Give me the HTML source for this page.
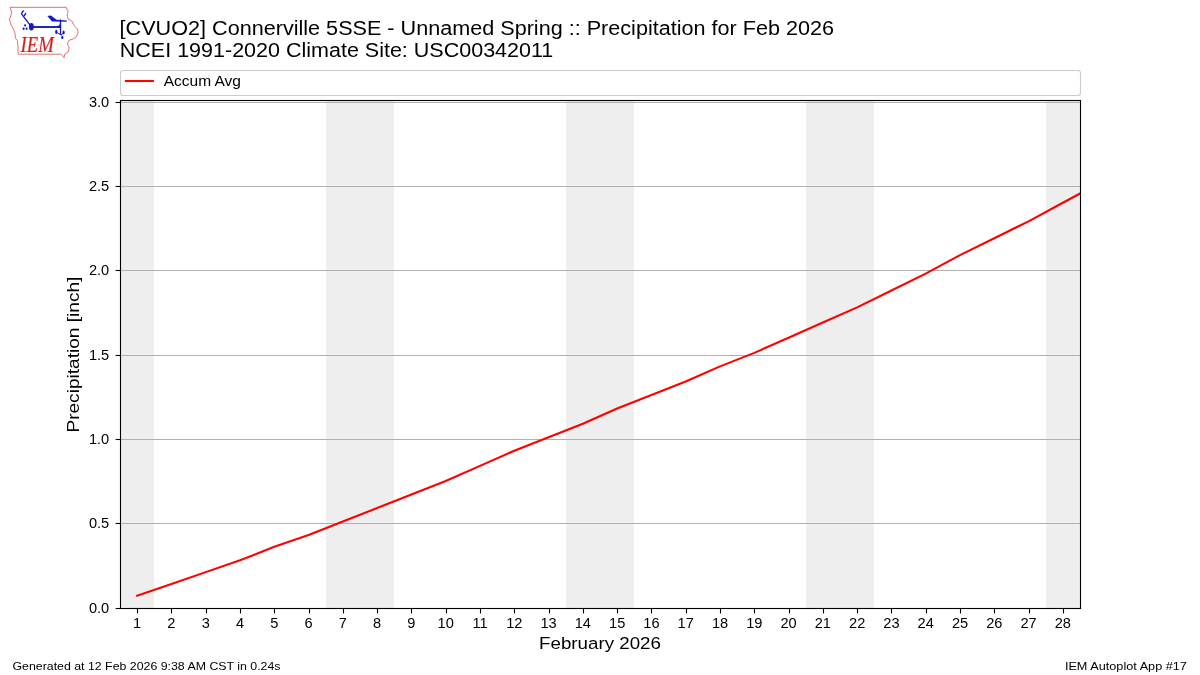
<!DOCTYPE html>
<html><head><meta charset="utf-8"><title>IEM Autoplot</title>
<style>
html,body{margin:0;padding:0;background:#fff;}
body{width:1200px;height:675px;overflow:hidden;}
svg{display:block;will-change:transform;}
text{font-family:"Liberation Sans", sans-serif;fill:#000;}
</style></head><body>
<svg width="1200" height="675" viewBox="0 0 1200 675">
<rect x="0" y="0" width="1200" height="675" fill="#fff"/>
<g id="logo">
<path d="M10.1,7.3 L66.4,7.3 L67.1,9.7 L68.4,11.2 L67.3,13.2 L67.3,16.3 L68.4,19.4 L70.7,20.3 L72.4,21.7 L73.3,24.3 L75.1,26.6 L77.3,28.8 L78.1,31.7 L77.3,34.8 L75.8,37.4 L73.2,39 L69,40.3 L68,42.1 L67.5,44.2 L69,46.8 L68.8,49.9 L67.5,52.5 L64.9,54 L64.4,56.1 L64.1,57.7 L62.3,55.6 L60.7,54.2 L18.4,54.2 L18,51.4 L18,46.8 L17.4,40.6 L15.4,38 L14.8,32.3 L12.8,28.1 L11.2,25 L9.4,19.4 L11.7,13.2 L10.8,9.7 Z" fill="none" stroke="#e06060" stroke-width="0.9"/>
<text x="20.6" y="51.5" style="font-family:'Liberation Serif',serif;font-style:italic;font-size:22.6px;fill:#d42020;stroke:#d42020;stroke-width:0.2" textLength="33.3" lengthAdjust="spacingAndGlyphs">IEM</text>
<g fill="#1818c8" stroke="#1818c8">
<line x1="31.4" y1="26.8" x2="21.3" y2="13.6" stroke-width="1.35"/>
<line x1="21.3" y1="13.6" x2="23.6" y2="10.5" stroke-width="1.35"/>
<line x1="24.0" y1="16.0" x2="26.0" y2="13.1" stroke-width="1.35"/>
<ellipse cx="31.35" cy="26.8" rx="2.5" ry="3.8" stroke="none"/>
<line x1="31.4" y1="27" x2="60.4" y2="27" stroke-width="1.9"/>
<line x1="60.5" y1="19.4" x2="60.5" y2="35.0" stroke-width="1.3"/>
<path d="M57.2,26.1 Q59.8,25.9 60.0,23.0 L60.8,23.0 L60.8,28 L57.2,28 Z" stroke="none"/>
<path d="M47.4,15.9 L51.0,15.6 L56.6,19.8 L66.8,20.5 L66.8,21.7 L52,21.5 Z" stroke="none"/>
<circle cx="25.1" cy="25.4" r="1.05" stroke="none"/>
<ellipse cx="23.6" cy="28.8" rx="1.0" ry="1.2" stroke="none"/>
<ellipse cx="26.6" cy="28.8" rx="1.0" ry="1.2" stroke="none"/>
<ellipse cx="56.3" cy="31.9" rx="1.15" ry="2.1" stroke="none"/>
<ellipse cx="63.6" cy="32.5" rx="1.1" ry="1.9" stroke="none"/>
<ellipse cx="62.3" cy="37.4" rx="1.1" ry="1.7" stroke="none"/>
<line x1="56.3" y1="32.2" x2="61.5" y2="35.2" stroke-width="1.0"/>
<line x1="63.6" y1="33" x2="60.8" y2="35" stroke-width="0.9"/>
</g>
</g>
<text x="119.6" y="34.8" style="font-size:20px" textLength="714.5" lengthAdjust="spacingAndGlyphs">[CVUO2] Connerville 5SSE - Unnamed Spring :: Precipitation for Feb 2026</text>
<text x="119.8" y="56.7" style="font-size:20px" textLength="433.5" lengthAdjust="spacingAndGlyphs">NCEI 1991-2020 Climate Site: USC00342011</text>
<rect x="120.5" y="70.5" width="960" height="25" rx="2.8" ry="2.8" fill="#fff" stroke="#cccccc" stroke-width="1.1"/>
<line x1="124.9" y1="81.0" x2="153.9" y2="81.0" stroke="#ff0000" stroke-width="2.1"/>
<text x="163.7" y="86" style="font-size:14.5px" textLength="77.3" lengthAdjust="spacingAndGlyphs">Accum Avg</text>
<rect x="120.5" y="100.5" width="33.5" height="508" fill="#eeeeee"/>
<rect x="326" y="100.5" width="68" height="508" fill="#eeeeee"/>
<rect x="566" y="100.5" width="68" height="508" fill="#eeeeee"/>
<rect x="806" y="100.5" width="68" height="508" fill="#eeeeee"/>
<rect x="1046" y="100.5" width="34.5" height="508" fill="#eeeeee"/>
<line x1="120.5" y1="523.5" x2="1080.5" y2="523.5" stroke="#b0b0b0" stroke-width="1.1"/>
<line x1="120.5" y1="439.5" x2="1080.5" y2="439.5" stroke="#b0b0b0" stroke-width="1.1"/>
<line x1="120.5" y1="355.5" x2="1080.5" y2="355.5" stroke="#b0b0b0" stroke-width="1.1"/>
<line x1="120.5" y1="270.5" x2="1080.5" y2="270.5" stroke="#b0b0b0" stroke-width="1.1"/>
<line x1="120.5" y1="186.5" x2="1080.5" y2="186.5" stroke="#b0b0b0" stroke-width="1.1"/>
<line x1="120.5" y1="102.5" x2="1080.5" y2="102.5" stroke="#b0b0b0" stroke-width="1.1"/>
<clipPath id="ax"><rect x="120.5" y="100.5" width="960" height="508"/></clipPath>
<polyline clip-path="url(#ax)" points="137.14,595.74 171.43,583.94 205.71,572.13 240.00,560.33 274.29,546.84 308.57,535.03 342.86,521.54 377.14,508.05 411.43,494.55 445.71,481.06 480.00,465.88 514.29,450.71 548.57,437.21 582.86,423.72 617.14,408.54 651.43,395.05 685.71,381.56 720.00,366.38 754.29,352.89 788.57,337.71 822.86,322.53 857.14,307.35 891.43,290.49 925.71,273.62 960.00,255.07 994.29,238.21 1028.57,221.34 1062.86,202.79 1097.14,184.24" fill="none" stroke="#ff0000" stroke-width="2.1" stroke-linejoin="round" stroke-linecap="square"/>
<rect x="120.5" y="100.5" width="960" height="508" fill="none" stroke="#000" stroke-width="1.1"/>
<line x1="115.6" y1="608.5" x2="120.5" y2="608.5" stroke="#000" stroke-width="1.1"/>
<text x="109.2" y="613.1" text-anchor="end" style="font-size:14.6px">0.0</text>
<line x1="115.6" y1="523.5" x2="120.5" y2="523.5" stroke="#000" stroke-width="1.1"/>
<text x="109.2" y="528.1" text-anchor="end" style="font-size:14.6px">0.5</text>
<line x1="115.6" y1="439.5" x2="120.5" y2="439.5" stroke="#000" stroke-width="1.1"/>
<text x="109.2" y="444.1" text-anchor="end" style="font-size:14.6px">1.0</text>
<line x1="115.6" y1="355.5" x2="120.5" y2="355.5" stroke="#000" stroke-width="1.1"/>
<text x="109.2" y="360.1" text-anchor="end" style="font-size:14.6px">1.5</text>
<line x1="115.6" y1="270.5" x2="120.5" y2="270.5" stroke="#000" stroke-width="1.1"/>
<text x="109.2" y="275.1" text-anchor="end" style="font-size:14.6px">2.0</text>
<line x1="115.6" y1="186.5" x2="120.5" y2="186.5" stroke="#000" stroke-width="1.1"/>
<text x="109.2" y="191.1" text-anchor="end" style="font-size:14.6px">2.5</text>
<line x1="115.6" y1="102.5" x2="120.5" y2="102.5" stroke="#000" stroke-width="1.1"/>
<text x="109.2" y="107.1" text-anchor="end" style="font-size:14.6px">3.0</text>
<line x1="137.50" y1="608.5" x2="137.50" y2="613.4" stroke="#000" stroke-width="1.1"/>
<text x="137.14" y="628" text-anchor="middle" style="font-size:14.6px">1</text>
<line x1="171.50" y1="608.5" x2="171.50" y2="613.4" stroke="#000" stroke-width="1.1"/>
<text x="171.43" y="628" text-anchor="middle" style="font-size:14.6px">2</text>
<line x1="206.50" y1="608.5" x2="206.50" y2="613.4" stroke="#000" stroke-width="1.1"/>
<text x="205.71" y="628" text-anchor="middle" style="font-size:14.6px">3</text>
<line x1="240.50" y1="608.5" x2="240.50" y2="613.4" stroke="#000" stroke-width="1.1"/>
<text x="240.00" y="628" text-anchor="middle" style="font-size:14.6px">4</text>
<line x1="274.50" y1="608.5" x2="274.50" y2="613.4" stroke="#000" stroke-width="1.1"/>
<text x="274.29" y="628" text-anchor="middle" style="font-size:14.6px">5</text>
<line x1="309.50" y1="608.5" x2="309.50" y2="613.4" stroke="#000" stroke-width="1.1"/>
<text x="308.57" y="628" text-anchor="middle" style="font-size:14.6px">6</text>
<line x1="343.50" y1="608.5" x2="343.50" y2="613.4" stroke="#000" stroke-width="1.1"/>
<text x="342.86" y="628" text-anchor="middle" style="font-size:14.6px">7</text>
<line x1="377.50" y1="608.5" x2="377.50" y2="613.4" stroke="#000" stroke-width="1.1"/>
<text x="377.14" y="628" text-anchor="middle" style="font-size:14.6px">8</text>
<line x1="411.50" y1="608.5" x2="411.50" y2="613.4" stroke="#000" stroke-width="1.1"/>
<text x="411.43" y="628" text-anchor="middle" style="font-size:14.6px">9</text>
<line x1="446.50" y1="608.5" x2="446.50" y2="613.4" stroke="#000" stroke-width="1.1"/>
<text x="445.71" y="628" text-anchor="middle" style="font-size:14.6px">10</text>
<line x1="480.50" y1="608.5" x2="480.50" y2="613.4" stroke="#000" stroke-width="1.1"/>
<text x="480.00" y="628" text-anchor="middle" style="font-size:14.6px">11</text>
<line x1="514.50" y1="608.5" x2="514.50" y2="613.4" stroke="#000" stroke-width="1.1"/>
<text x="514.29" y="628" text-anchor="middle" style="font-size:14.6px">12</text>
<line x1="549.50" y1="608.5" x2="549.50" y2="613.4" stroke="#000" stroke-width="1.1"/>
<text x="548.57" y="628" text-anchor="middle" style="font-size:14.6px">13</text>
<line x1="583.50" y1="608.5" x2="583.50" y2="613.4" stroke="#000" stroke-width="1.1"/>
<text x="582.86" y="628" text-anchor="middle" style="font-size:14.6px">14</text>
<line x1="617.50" y1="608.5" x2="617.50" y2="613.4" stroke="#000" stroke-width="1.1"/>
<text x="617.14" y="628" text-anchor="middle" style="font-size:14.6px">15</text>
<line x1="651.50" y1="608.5" x2="651.50" y2="613.4" stroke="#000" stroke-width="1.1"/>
<text x="651.43" y="628" text-anchor="middle" style="font-size:14.6px">16</text>
<line x1="686.50" y1="608.5" x2="686.50" y2="613.4" stroke="#000" stroke-width="1.1"/>
<text x="685.71" y="628" text-anchor="middle" style="font-size:14.6px">17</text>
<line x1="720.50" y1="608.5" x2="720.50" y2="613.4" stroke="#000" stroke-width="1.1"/>
<text x="720.00" y="628" text-anchor="middle" style="font-size:14.6px">18</text>
<line x1="754.50" y1="608.5" x2="754.50" y2="613.4" stroke="#000" stroke-width="1.1"/>
<text x="754.29" y="628" text-anchor="middle" style="font-size:14.6px">19</text>
<line x1="789.50" y1="608.5" x2="789.50" y2="613.4" stroke="#000" stroke-width="1.1"/>
<text x="788.57" y="628" text-anchor="middle" style="font-size:14.6px">20</text>
<line x1="823.50" y1="608.5" x2="823.50" y2="613.4" stroke="#000" stroke-width="1.1"/>
<text x="822.86" y="628" text-anchor="middle" style="font-size:14.6px">21</text>
<line x1="857.50" y1="608.5" x2="857.50" y2="613.4" stroke="#000" stroke-width="1.1"/>
<text x="857.14" y="628" text-anchor="middle" style="font-size:14.6px">22</text>
<line x1="891.50" y1="608.5" x2="891.50" y2="613.4" stroke="#000" stroke-width="1.1"/>
<text x="891.43" y="628" text-anchor="middle" style="font-size:14.6px">23</text>
<line x1="926.50" y1="608.5" x2="926.50" y2="613.4" stroke="#000" stroke-width="1.1"/>
<text x="925.71" y="628" text-anchor="middle" style="font-size:14.6px">24</text>
<line x1="960.50" y1="608.5" x2="960.50" y2="613.4" stroke="#000" stroke-width="1.1"/>
<text x="960.00" y="628" text-anchor="middle" style="font-size:14.6px">25</text>
<line x1="994.50" y1="608.5" x2="994.50" y2="613.4" stroke="#000" stroke-width="1.1"/>
<text x="994.29" y="628" text-anchor="middle" style="font-size:14.6px">26</text>
<line x1="1029.50" y1="608.5" x2="1029.50" y2="613.4" stroke="#000" stroke-width="1.1"/>
<text x="1028.57" y="628" text-anchor="middle" style="font-size:14.6px">27</text>
<line x1="1063.50" y1="608.5" x2="1063.50" y2="613.4" stroke="#000" stroke-width="1.1"/>
<text x="1062.86" y="628" text-anchor="middle" style="font-size:14.6px">28</text>
<text x="600" y="648.7" text-anchor="middle" style="font-size:16.8px" textLength="121.8" lengthAdjust="spacingAndGlyphs">February 2026</text>
<text transform="translate(78.9,354.6) rotate(-90)" x="0" y="0" text-anchor="middle" style="font-size:16.8px" textLength="156" lengthAdjust="spacingAndGlyphs">Precipitation [inch]</text>
<text x="12.5" y="670" style="font-size:11.5px" textLength="268" lengthAdjust="spacingAndGlyphs">Generated at 12 Feb 2026 9:38 AM CST in 0.24s</text>
<text x="1064.9" y="670" style="font-size:11.5px" textLength="122" lengthAdjust="spacingAndGlyphs">IEM Autoplot App #17</text>
</svg>
</body></html>
